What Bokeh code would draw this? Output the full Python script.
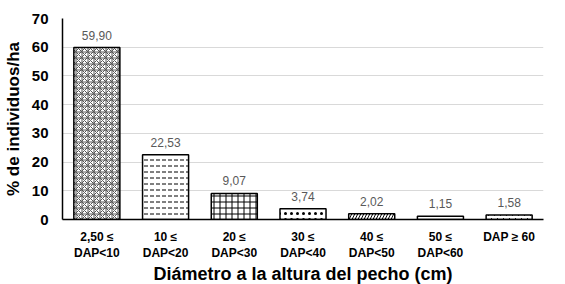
from bokeh.plotting import figure
from bokeh.models import ColumnDataSource, FactorRange, Range1d, FixedTicker
from bokeh.core.properties import value
from bokeh.embed import file_html
from bokeh.resources import INLINE

categories = ["2,50 ≤\nDAP<10", "10 ≤\nDAP<20", "20 ≤\nDAP<30", "30 ≤\nDAP<40",
              "40 ≤\nDAP<50", "50 ≤\nDAP<60", "DAP ≥ 60"]
values = [59.90, 22.53, 9.07, 3.74, 2.02, 1.15, 1.58]
value_labels = ["59,90", "22,53", "9,07", "3,74", "2,02", "1,15", "1,58"]
hatches = ["criss_cross", "horizontal_dash", "cross", "dot", "right_diagonal_line",
           "horizontal_line", "right_diagonal_dash"]
hatch_colors = ["#555555", "black", "black", "black", "black", "black", "black"]
yticks = [0, 10, 20, 30, 40, 50, 60, 70]

src = ColumnDataSource(dict(cat=categories, val=values, lab=value_labels,
                            hatch=hatches, hc=hatch_colors))

p = figure(x_range=FactorRange(*categories), y_range=Range1d(0, 70),
           frame_width=481, frame_height=201, output_backend="svg", toolbar_location=None,
           min_border_left=62, min_border_right=10, min_border_top=18,
           min_border_bottom=50)

p.vbar(x="cat", top="val", width=0.67, source=src, fill_color="white",
       line_color="black", line_width=1.5, hatch_pattern="hatch",
       hatch_color="hc", hatch_scale=6, hatch_weight=1)

p.text(x="cat", y="val", text="lab", source=src, text_align="center",
       text_baseline="bottom", y_offset=-8, text_font=value("Liberation Sans"),
       text_font_size="12px", text_color="#595959")

p.outline_line_color = None
p.xgrid.grid_line_color = None
p.ygrid.grid_line_color = "#d9d9d9"
p.ygrid.grid_line_width = 1
p.yaxis.ticker = FixedTicker(ticks=yticks)

for ax in (p.xaxis[0], p.yaxis[0]):
    ax.axis_line_color = "black"
    ax.axis_line_width = 1.5
    ax.major_tick_line_color = None
    ax.minor_tick_line_color = None
    ax.major_tick_out = 0
    ax.major_tick_in = 0
    ax.minor_tick_out = 0
    ax.minor_tick_in = 0
    ax.major_label_text_font = "Liberation Sans"
    ax.major_label_text_font_style = "bold"
    ax.major_label_text_color = "black"
    ax.axis_label_text_font = "Liberation Sans"
    ax.axis_label_text_font_style = "bold"
    ax.axis_label_text_color = "black"

p.yaxis.major_label_text_font_size = "15px"
p.yaxis.axis_label = "% de individuos/ha"
p.yaxis.axis_label_text_font_size = "17px"
p.yaxis.major_label_standoff = 14
p.yaxis.axis_label_standoff = 6

p.xaxis.major_label_text_font_size = "12px"
p.xaxis.major_label_standoff = 10
p.xaxis.axis_label = "Diámetro a la altura del pecho (cm)"
p.xaxis.axis_label_text_font_size = "18px"
p.xaxis.axis_label_standoff = 1

open("out.html", "w").write(file_html(p, INLINE))
